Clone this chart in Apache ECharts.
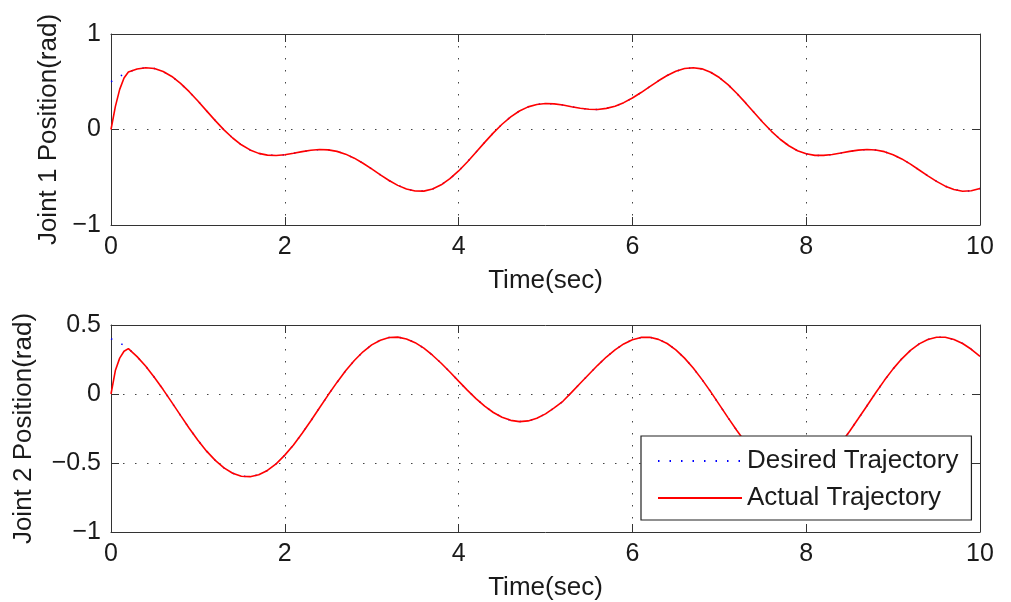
<!DOCTYPE html>
<html>
<head>
<meta charset="utf-8">
<script src="https://cdn.jsdelivr.net/npm/echarts@6/dist/echarts.min.js"></script>
<style>
  html, body { margin: 0; padding: 0; background: #fff; }
  #chart { width: 1011px; height: 602px; }
</style>
</head>
<body>
<div id="chart"></div>
<script>
// time samples (sec) after the start transient, step 0.1
var tMain = [0.2, 0.3, 0.4, 0.5, 0.6, 0.7, 0.8, 0.9, 1.0,
  1.1, 1.2, 1.3, 1.4, 1.5, 1.6, 1.7, 1.8, 1.9, 2.0,
  2.1, 2.2, 2.3, 2.4, 2.5, 2.6, 2.7, 2.8, 2.9, 3.0,
  3.1, 3.2, 3.3, 3.4, 3.5, 3.6, 3.7, 3.8, 3.9, 4.0,
  4.1, 4.2, 4.3, 4.4, 4.5, 4.6, 4.7, 4.8, 4.9, 5.0,
  5.1, 5.2, 5.3, 5.4, 5.5, 5.6, 5.7, 5.8, 5.9, 6.0,
  6.1, 6.2, 6.3, 6.4, 6.5, 6.6, 6.7, 6.8, 6.9, 7.0,
  7.1, 7.2, 7.3, 7.4, 7.5, 7.6, 7.7, 7.8, 7.9, 8.0,
  8.1, 8.2, 8.3, 8.4, 8.5, 8.6, 8.7, 8.8, 8.9, 9.0,
  9.1, 9.2, 9.3, 9.4, 9.5, 9.6, 9.7, 9.8, 9.9, 10.0];

// joint positions (rad), desired == actual here
var joint1Main = [0.603, 0.634, 0.647, 0.638, 0.607, 0.555, 0.483, 0.396, 0.298,
  0.195, 0.093, -0.004, -0.089, -0.160, -0.214, -0.250, -0.268, -0.272, -0.264,
  -0.249, -0.232, -0.217, -0.210, -0.213, -0.229, -0.258, -0.300, -0.353, -0.413,
  -0.475, -0.534, -0.585, -0.623, -0.644, -0.645, -0.623, -0.579, -0.515, -0.434,
  -0.340, -0.238, -0.135, -0.035, 0.055, 0.133, 0.194, 0.237, 0.262, 0.272,
  0.268, 0.256, 0.239, 0.223, 0.212, 0.210, 0.221, 0.244, 0.281, 0.330,
  0.387, 0.449, 0.510, 0.565, 0.609, 0.638, 0.647, 0.635, 0.600, 0.544,
  0.470, 0.380, 0.281, 0.178, 0.076, -0.019, -0.102, -0.170, -0.222, -0.254,
  -0.271, -0.271, -0.262, -0.246, -0.229, -0.216, -0.209, -0.215, -0.232, -0.264,
  -0.308, -0.363, -0.424, -0.485, -0.543, -0.593, -0.628, -0.646, -0.642, -0.617];
var joint2Main = [0.329, 0.271, 0.201, 0.120, 0.032, -0.061, -0.155, -0.248, -0.335,
  -0.414, -0.481, -0.535, -0.574, -0.596, -0.599, -0.585, -0.554, -0.506, -0.443,
  -0.369, -0.285, -0.194, -0.100, -0.006, 0.084, 0.168, 0.243, 0.306, 0.356,
  0.390, 0.409, 0.412, 0.399, 0.372, 0.332, 0.281, 0.223, 0.159, 0.093,
  0.028, -0.033, -0.088, -0.134, -0.169, -0.191, -0.200, -0.195, -0.176, -0.144,
  -0.101, -0.053, 0.012, 0.078, 0.143, 0.208, 0.268, 0.320, 0.363, 0.393,
  0.410, 0.411, 0.396, 0.366, 0.320, 0.260, 0.188, 0.106, 0.017, -0.077,
  -0.171, -0.263, -0.349, -0.426, -0.492, -0.543, -0.579, -0.597, -0.598, -0.581,
  -0.547, -0.496, -0.432, -0.355, -0.270, -0.178, -0.085, 0.009, 0.099, 0.182,
  0.255, 0.316, 0.363, 0.395, 0.411, 0.411, 0.395, 0.366, 0.324, 0.272];

// start of the run, where the actual trajectory catches up
var tStartDesired = [0, 0.1];
var joint1StartDesired = [0.5, 0.557];
var joint2StartDesired = [0.4, 0.372];
var tStartActual = [0, 0.05, 0.1, 0.15];
var joint1StartActual = [0, 0.24, 0.42, 0.54];
var joint2StartActual = [0, 0.17, 0.26, 0.31];

function pairs(ts, vs) {
  return ts.map(function (t, i) { return [t, vs[i]]; });
}

var FONT = "'Liberation Sans', Arial, Helvetica, sans-serif";
var TXT = "#1a1a1a";
var minus = function (v) { return String(v).replace("-", "\u2212"); };
var dotted = { color: "#444", type: [1.5, 10.5], width: 1 };
var frame = { color: "#333", width: 1 };

function bottomAxis(gi) {
  return {
    type: "value", gridIndex: gi, min: 0, max: 10, interval: 2,
    name: "Time(sec)", nameLocation: "middle", nameGap: 43,
    nameTextStyle: { fontFamily: FONT, fontSize: 26, color: TXT },
    axisLine: { show: true, onZero: false, lineStyle: frame },
    axisTick: { show: true, inside: true, length: 8, lineStyle: frame },
    axisLabel: { margin: 10, fontFamily: FONT, fontSize: 25, color: TXT, formatter: minus },
    splitLine: { show: true, lineStyle: dotted },
  };
}
function topAxis(gi) {
  return {
    type: "value", gridIndex: gi, position: "top", min: 0, max: 10, interval: 2,
    axisLine: { show: true, onZero: false, lineStyle: frame },
    axisTick: { show: true, inside: true, length: 8, lineStyle: frame },
    axisLabel: { show: false },
    splitLine: { show: false },
  };
}
function leftAxis(gi, min, max, interval, name, gap) {
  return {
    type: "value", gridIndex: gi, min: min, max: max, interval: interval,
    name: name, nameLocation: "middle", nameGap: gap, nameRotate: 90,
    nameTextStyle: { fontFamily: FONT, fontSize: 26, color: TXT },
    axisLine: { show: true, onZero: false, lineStyle: frame },
    axisTick: { show: true, inside: true, length: 8, lineStyle: frame },
    axisLabel: { margin: 10, fontFamily: FONT, fontSize: 25, color: TXT, formatter: minus },
    splitLine: { show: true, lineStyle: dotted },
  };
}
function rightAxis(gi, min, max, interval) {
  return {
    type: "value", gridIndex: gi, position: "right", min: min, max: max, interval: interval,
    axisLine: { show: true, onZero: false, lineStyle: frame },
    axisTick: { show: true, inside: true, length: 8, lineStyle: frame },
    axisLabel: { show: false },
    splitLine: { show: false },
  };
}

function desiredSeries(xi, yi, data) {
  return {
    name: "Desired Trajectory", type: "line", xAxisIndex: xi, yAxisIndex: yi,
    data: data, symbol: "none", z: 2, silent: true,
    lineStyle: { color: "#0000ff", width: 1.5, type: [1.5, 10] },
    itemStyle: { color: "#0000ff" },
  };
}
function actualSeries(xi, yi, data) {
  return {
    name: "Actual Trajectory", type: "line", xAxisIndex: xi, yAxisIndex: yi,
    data: data, symbol: "none", z: 3, silent: true,
    lineStyle: { color: "#ff0000", width: 1.6 },
    itemStyle: { color: "#ff0000" },
  };
}

var chart = echarts.init(document.getElementById("chart"), null, { renderer: "canvas" });
chart.setOption({
  animation: false,
  backgroundColor: "#fff",
  grid: [
    { left: 111, top: 34, width: 869, height: 191 },
    { left: 111, top: 325, width: 869, height: 207 },
  ],
  xAxis: [bottomAxis(0), topAxis(0), bottomAxis(1), topAxis(1)],
  yAxis: [
    leftAxis(0, -1, 1, 1, "Joint 1 Position(rad)", 49),
    rightAxis(0, -1, 1, 1),
    leftAxis(1, -1, 0.5, 0.5, "Joint 2 Position(rad)", 74),
    rightAxis(1, -1, 0.5, 0.5),
  ],
  legend: {
    orient: "vertical",
    left: 641, top: 436,
    padding: [12, 13, 9, 16],
    itemWidth: 84, itemHeight: 14, itemGap: 11,
    backgroundColor: "#fff",
    borderColor: "#222", borderWidth: 1.2, borderRadius: 0,
    selectedMode: false,
    itemStyle: { opacity: 0 },
    textStyle: { fontFamily: FONT, fontSize: 26, color: TXT },
    data: ["Desired Trajectory", "Actual Trajectory"],
  },
  series: [
    desiredSeries(0, 0, pairs(tStartDesired, joint1StartDesired).concat(pairs(tMain, joint1Main))),
    actualSeries(0, 0, pairs(tStartActual, joint1StartActual).concat(pairs(tMain, joint1Main))),
    desiredSeries(2, 2, pairs(tStartDesired, joint2StartDesired).concat(pairs(tMain, joint2Main))),
    actualSeries(2, 2, pairs(tStartActual, joint2StartActual).concat(pairs(tMain, joint2Main))),
  ],
});
</script>
</body>
</html>
